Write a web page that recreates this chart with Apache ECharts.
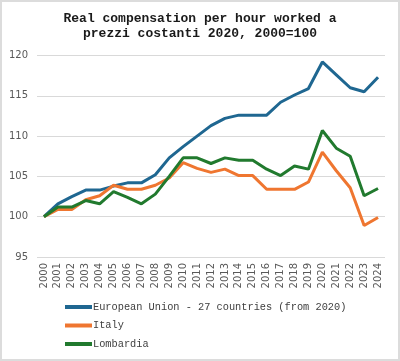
<!DOCTYPE html>
<html><head><meta charset="utf-8">
<script src="https://cdn.jsdelivr.net/npm/echarts@6/dist/echarts.min.js"></script>
<style>html,body{margin:0;padding:0;background:#fff}#c{width:400px;height:361px;position:relative}#b{position:absolute;left:0;top:0;width:400px;height:361px;box-sizing:border-box;border:2px solid #dcdcdc;pointer-events:none}</style>
</head><body><div id="c"></div><div id="b"></div>
<script>
const years = ['2000','2001','2002','2003','2004','2005','2006','2007','2008','2009','2010','2011','2012','2013','2014','2015','2016','2017','2018','2019','2020','2021','2022','2023','2024'];
const eu = [100,101.6,102.5,103.3,103.3,103.8,104.2,104.2,105.2,107.3,108.7,110.0,111.3,112.2,112.6,112.6,112.6,114.2,115.1,115.9,119.2,117.6,116.0,115.5,117.3];
const italy = [100,100.9,100.9,102.1,102.6,103.9,103.4,103.4,103.9,104.8,106.7,106.0,105.5,105.9,105.1,105.1,103.4,103.4,103.4,104.3,108.0,105.7,103.6,98.9,99.9];
const lombardia = [100,101.2,101.2,102.0,101.6,103.1,102.4,101.6,102.8,105.0,107.3,107.3,106.6,107.3,107.0,107.0,105.9,105.1,106.3,105.9,110.7,108.5,107.5,102.6,103.5];
const names = ['European Union - 27 countries (from 2020)','Italy','Lombardia'];
const colors = ['#1f6791','#ef7630','#217a2e'];
const chart = echarts.init(document.getElementById('c'));
const mk = (n,d,c)=>({name:n,type:'line',data:d,symbol:'none',lineStyle:{width:3,color:c},itemStyle:{color:c}});
chart.setOption({
  animation:false,
  title:{text:'Real compensation per hour worked a\nprezzi costanti 2020, 2000=100',left:'center',top:6,
    textStyle:{fontFamily:'Liberation Mono',fontWeight:'bold',fontSize:13,lineHeight:15,color:'#1a1a1a'}},
  grid:{left:37,right:15,top:55.5,bottom:104},
  legend:{orient:'vertical',left:60,top:297,itemWidth:27,itemHeight:4,itemGap:8.5,icon:'rect',
    textStyle:{fontFamily:'Liberation Mono',fontSize:10.3,color:'#404040',padding:[0,0,0,-4]},data:names},
  xAxis:{type:'category',data:years,boundaryGap:true,axisLine:{show:false},axisTick:{show:false},
    axisLabel:{rotate:90,fontFamily:'DejaVu Sans',fontSize:10,color:'#595959',margin:6}},
  yAxis:{type:'value',min:95,max:120,interval:5,axisLine:{show:false},axisTick:{show:false},
    axisLabel:{fontFamily:'DejaVu Sans',fontSize:10,color:'#595959',margin:9},
    splitLine:{lineStyle:{color:'#d9d9d9',width:1}}},
  series:[mk(names[0],eu,colors[0]),mk(names[1],italy,colors[1]),mk(names[2],lombardia,colors[2])]
});
</script></body></html>
